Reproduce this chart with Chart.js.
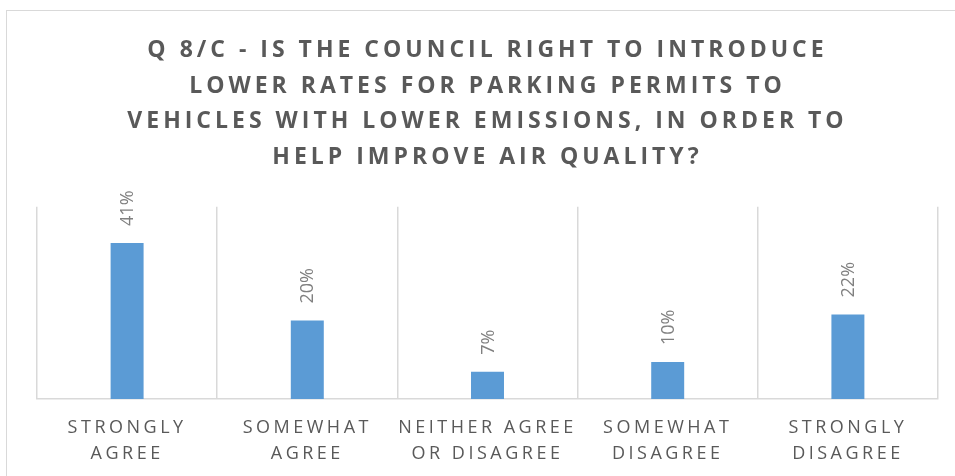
<!DOCTYPE html>
<html>
<head>
<meta charset="utf-8">
<script src="https://cdn.jsdelivr.net/npm/chart.js@4.4.1/dist/chart.umd.min.js"></script>
<style>
  body { margin: 0; background: #fff; }
  #wrap { position: relative; width: 955px; height: 476px; overflow: hidden; }
  #frame { position: absolute; left: 6px; top: 10px; width: 1000px; height: 600px; border: 1.5px solid #d9d9d9; }
  canvas { position: absolute; left: 0; top: 0; }
</style>
</head>
<body>
<div id="wrap">
  <div id="frame"></div>
  <canvas id="myChart" width="955" height="476"></canvas>
</div>
<script>
var titleLines = ['Q 8/C - IS THE COUNCIL RIGHT TO INTRODUCE', 'LOWER RATES FOR PARKING PERMITS TO', 'VEHICLES WITH LOWER EMISSIONS, IN ORDER TO', 'HELP IMPROVE AIR QUALITY?']
var answers = [['STRONGLY', 'AGREE'], ['SOMEWHAT', 'AGREE'], ['NEITHER AGREE', 'OR DISAGREE'], ['SOMEWHAT', 'DISAGREE'], ['STRONGLY', 'DISAGREE']]
var shares = [40.6, 20.4, 7.1, 9.6, 22.0]

// canvas letterSpacing for title and axis labels only
function spaced(obj, fn, ls) {
  if (!obj || obj['_sp_' + fn]) return
  var orig = obj[fn]
  obj[fn] = function() {
    var c = this.ctx
    c.save()
    c.letterSpacing = ls
    orig.apply(this, arguments)
    c.restore()
  }
  obj['_sp_' + fn] = true
}

var spacing = {
  id: 'spacing',
  beforeDraw: function(chart) {
    spaced(chart.titleBlock, 'draw', '4px')
    spaced(chart.scales.x, 'drawLabels', '3.5px')
  }
}

var barLabels = {
  id: 'barLabels',
  afterDatasetsDraw: function(chart) {
    var ctx = chart.ctx
    var meta = chart.getDatasetMeta(0)
    ctx.save()
    ctx.font = '18px "Open Sans"'
    ctx.fillStyle = '#808080'
    ctx.textAlign = 'left'
    ctx.textBaseline = 'middle'
    meta.data.forEach(function(bar, i) {
      ctx.save()
      ctx.translate(bar.x + 1, bar.y - 17)
      ctx.rotate(-Math.PI / 2)
      ctx.fillText(Math.round(shares[i]) + '%', 0, 0)
      ctx.restore()
    })
    ctx.restore()
  }
}

var ctx = document.getElementById('myChart').getContext('2d')
var myChart = new Chart(ctx, {
  type: 'bar',
  data: {
    labels: answers,
    datasets: [{
      data: shares,
      backgroundColor: '#5b9bd5',
      barPercentage: 1,
      categoryPercentage: 0.183
    }]
  },
  options: {
    responsive: false,
    animation: false,
    devicePixelRatio: 1,
    layout: {padding: {left: 37, right: 17, top: 0, bottom: 0}},
    plugins: {
      legend: {display: false},
      tooltip: {enabled: false},
      title: {
        display: true,
        text: titleLines,
        color: '#595959',
        font: {family: '"Open Sans"', size: 23, weight: 'bold', lineHeight: 1.55},
        padding: {top: 32.5, bottom: 31.7}
      }
    },
    scales: {
      x: {
        afterFit: function(s) { s.height = 77 },
        grid: {color: '#d9d9d9', lineWidth: 1.5, drawTicks: false, offset: true},
        border: {color: '#d9d9d9', width: 1.5},
        ticks: {
          color: '#595959',
          font: {family: '"Open Sans"', size: 18, lineHeight: 1.44},
          padding: 16,
          maxRotation: 0,
          autoSkip: false
        }
      },
      y: {display: false, min: 0, max: 50}
    }
  },
  plugins: [spacing, barLabels]
})
</script>
</body>
</html>
